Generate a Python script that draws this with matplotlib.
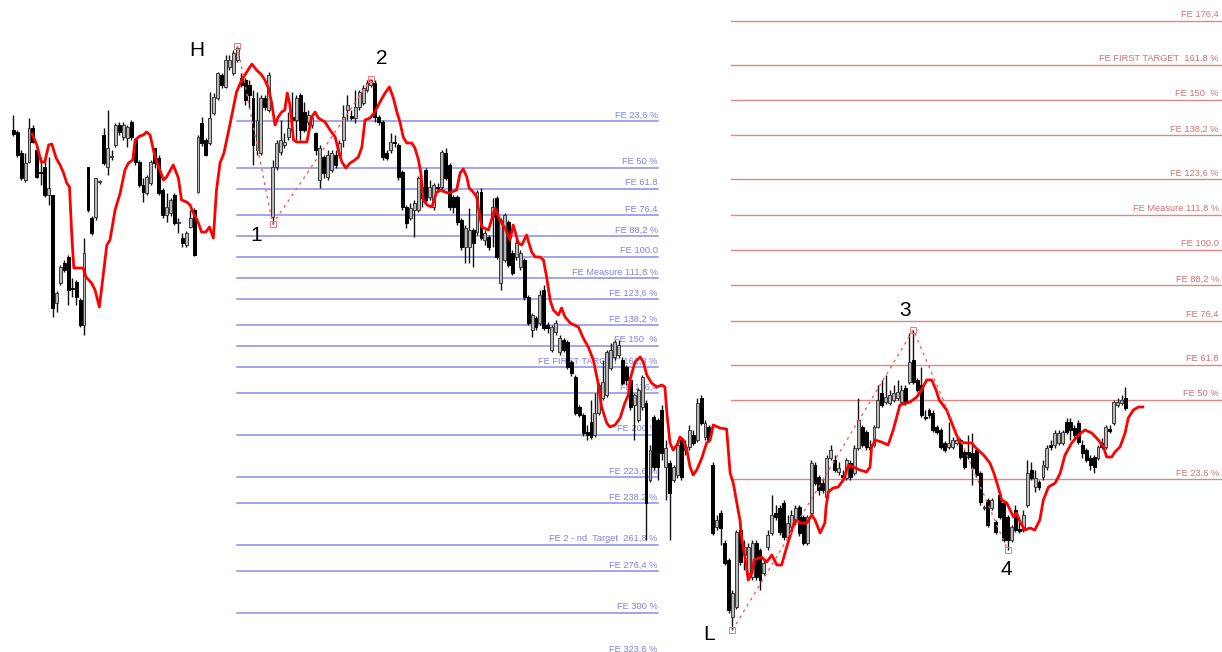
import matplotlib
matplotlib.use("Agg")
import matplotlib.pyplot as plt
import numpy as np

# ---- price data (one candle per bar) ----
opens = [
    870, 868, 847, 820, 838, 872, 850, 828, 833, 805, 805, 697, 717, 737, 743, 712, 718, 700, 675, 833,
    782, 783, 818, 865, 833, 843, 855, 875, 863, 862, 878, 860, 838, 815, 807, 817, 852, 842, 810, 785,
    787, 805, 777, 762, 755, 773, 790, 808, 877, 860, 857, 887, 902, 925, 913, 933, 927, 940, 922, 920,
    915, 902, 850, 847, 902, 890, 783, 833, 848, 855, 863, 883, 880, 905, 888, 878, 875, 867, 820, 843,
    823, 830, 845, 845, 860, 890, 884, 882, 893, 897, 910, 915, 917, 883, 878, 847, 850, 858, 855, 828,
    793, 782, 790, 790, 813, 830, 803, 793, 813, 813, 847, 835, 803, 803, 780, 753, 753, 770, 768, 808,
    760, 763, 783, 802, 717, 740, 778, 747, 743, 733, 740, 703, 670, 682, 677, 710, 675, 650, 668, 648,
    660, 658, 638, 623, 593, 585, 568, 578, 565, 587, 602, 605, 632, 643, 645, 640, 633, 620, 595, 580,
    593, 597, 520, 583, 580, 590, 533, 537, 520, 525, 560, 550, 553, 565, 560, 602, 563, 573, 535, 473,
    487, 457, 440, 383, 393, 470, 445, 427, 423, 457, 450, 427, 453, 467, 487, 492, 497, 463, 473, 478,
    493, 483, 457, 487, 535, 523, 517, 503, 542, 540, 528, 525, 522, 537, 527, 552, 573, 568, 553, 555,
    573, 607, 598, 597, 600, 602, 598, 612, 618, 640, 620, 615, 583, 590, 587, 573, 570, 557, 553, 553,
    557, 560, 548, 548, 547, 550, 527, 492, 500, 492, 478, 505, 497, 483, 460, 490, 471, 470, 495, 530,
    513, 518, 523, 533, 555, 555, 557, 557, 578, 578, 572, 577, 555, 550, 542, 543, 542, 557, 553, 571,
    577, 595, 597, 602,
]
highs = [
    885, 870, 850, 847, 882, 875, 852, 843, 842, 843, 805, 709, 735, 740, 745, 722, 720, 702, 762, 833,
    784, 822, 820, 872, 890, 850, 877, 878, 878, 875, 880, 862, 840, 822, 825, 840, 852, 845, 812, 807,
    802, 807, 782, 767, 769, 790, 792, 865, 883, 862, 908, 907, 928, 927, 945, 945, 950, 954, 927, 922,
    920, 910, 908, 905, 905, 928, 840, 860, 880, 867, 888, 908, 905, 907, 898, 890, 885, 868, 855, 845,
    850, 850, 850, 860, 895, 905, 890, 910, 910, 915, 920, 921, 920, 885, 880, 850, 867, 865, 857, 830,
    795, 797, 800, 824, 817, 832, 820, 817, 817, 850, 852, 837, 805, 805, 782, 775, 792, 772, 810, 812,
    770, 765, 802, 804, 782, 787, 780, 750, 760, 750, 742, 705, 687, 684, 710, 715, 678, 675, 680, 665,
    662, 660, 640, 625, 595, 587, 575, 600, 607, 617, 640, 650, 657, 660, 660, 643, 635, 622, 607, 612,
    625, 600, 555, 585, 582, 595, 560, 540, 535, 560, 563, 560, 575, 570, 602, 605, 580, 575, 538, 485,
    490, 460, 442, 410, 470, 480, 460, 457, 460, 460, 452, 440, 470, 505, 495, 495, 500, 485, 490, 495,
    495, 485, 485, 540, 538, 525, 522, 545, 555, 545, 538, 530, 542, 540, 555, 602, 575, 570, 560, 575,
    615, 620, 625, 610, 615, 620, 615, 615, 667, 670, 622, 633, 590, 592, 590, 575, 572, 559, 578, 563,
    562, 562, 550, 565, 567, 552, 529, 495, 502, 502, 480, 507, 500, 485, 475, 495, 480, 490, 540, 538,
    530, 520, 540, 555, 560, 570, 570, 570, 582, 582, 575, 580, 560, 552, 545, 545, 555, 562, 575, 575,
    600, 602, 605, 613,
]
lows = [
    864, 843, 820, 818, 837, 857, 822, 815, 803, 795, 683, 688, 715, 728, 695, 703, 695, 673, 665, 788,
    765, 780, 816, 835, 825, 840, 853, 865, 860, 853, 860, 835, 813, 798, 805, 815, 832, 805, 782, 778,
    784, 775, 767, 753, 753, 772, 744, 807, 854, 844, 855, 885, 900, 912, 912, 930, 925, 938, 913, 895,
    892, 835, 845, 845, 890, 888, 776, 830, 845, 852, 860, 870, 860, 860, 868, 875, 872, 845, 812, 822,
    820, 828, 832, 842, 853, 880, 880, 877, 890, 895, 908, 913, 878, 875, 840, 840, 847, 853, 820, 790,
    772, 780, 763, 788, 793, 798, 800, 790, 808, 808, 820, 790, 787, 775, 750, 737, 737, 733, 765, 760,
    755, 750, 753, 741, 710, 738, 733, 725, 740, 730, 700, 675, 663, 670, 675, 670, 667, 648, 665, 645,
    648, 631, 624, 585, 583, 564, 560, 561, 563, 585, 600, 603, 630, 640, 642, 615, 615, 590, 560, 578,
    590, 460, 518, 530, 520, 540, 500, 460, 518, 522, 520, 545, 550, 555, 558, 575, 560, 558, 465, 470,
    455, 435, 387, 370, 391, 435, 430, 425, 420, 420, 410, 425, 450, 465, 480, 465, 460, 460, 470, 475,
    464, 455, 455, 485, 515, 505, 507, 500, 540, 528, 525, 520, 520, 520, 525, 550, 553, 550, 548, 553,
    572, 593, 596, 595, 598, 600, 596, 595, 616, 616, 608, 583, 580, 582, 568, 566, 551, 548, 551, 551,
    555, 541, 531, 541, 515, 523, 495, 490, 473, 490, 466, 481, 458, 450, 458, 468, 467, 468, 493, 520,
    508, 510, 520, 530, 550, 552, 555, 555, 566, 560, 562, 556, 542, 538, 530, 527, 540, 551, 551, 567,
    575, 593, 595, 590,
]
closes = [
    866, 845, 822, 837, 872, 858, 823, 827, 805, 812, 692, 707, 733, 730, 710, 711, 703, 675, 747, 790,
    767, 822, 819, 837, 852, 844, 875, 868, 875, 873, 863, 838, 815, 808, 823, 838, 837, 807, 785, 793,
    800, 777, 778, 757, 767, 782, 745, 863, 857, 845, 882, 903, 927, 915, 940, 940, 947, 952, 915, 900,
    905, 855, 880, 902, 893, 925, 833, 857, 860, 858, 872, 880, 902, 870, 870, 885, 882, 850, 852, 827,
    845, 847, 835, 857, 883, 895, 882, 893, 908, 912, 917, 920, 883, 878, 843, 842, 858, 857, 823, 793,
    777, 792, 797, 822, 802, 800, 813, 815, 812, 848, 822, 793, 793, 778, 753, 772, 770, 757, 808, 762,
    767, 753, 793, 743, 780, 785, 735, 727, 757, 747, 703, 677, 685, 673, 705, 672, 672, 673, 677, 662,
    650, 633, 627, 587, 585, 567, 565, 563, 587, 615, 618, 648, 650, 658, 655, 617, 620, 593, 605, 610,
    623, 497, 550, 533, 533, 547, 552, 507, 533, 555, 523, 553, 570, 557, 597, 577, 577, 560, 467, 480,
    472, 437, 390, 407, 468, 438, 453, 453, 457, 423, 420, 437, 465, 485, 483, 468, 463, 477, 485, 492,
    467, 457, 483, 537, 517, 510, 510, 542, 550, 530, 532, 523, 540, 523, 552, 580, 555, 553, 551, 573,
    600, 595, 603, 605, 607, 608, 610, 597, 638, 618, 610, 585, 582, 585, 570, 568, 553, 550, 557, 560,
    560, 543, 533, 543, 532, 525, 498, 493, 475, 500, 468, 483, 460, 460, 473, 470, 469, 485, 527, 522,
    522, 513, 535, 552, 553, 567, 567, 568, 568, 570, 565, 558, 547, 540, 535, 533, 553, 553, 573, 569,
    598, 598, 600, 592,
]

# ---- displaced moving average (bar position, value) ----
ma_pos = [
    4.8, 6.0, 7.1, 8.0, 9.0, 9.8, 10.9, 11.9, 12.7, 13.6, 14.3, 14.9, 15.4, 17.8, 18.5, 19.9, 20.8, 21.9,
    23.8, 24.6, 25.9, 27.2, 28.4, 29.3, 30.4, 31.0, 32.2, 33.1, 33.9, 34.8, 36.1, 37.3, 38.2, 39.0, 40.7,
    42.0, 42.8, 44.1, 45.0, 45.8, 46.8, 47.9, 49.0, 49.9, 50.9, 51.7, 52.6, 53.6, 55.1, 56.8, 58.1, 59.4,
    60.7, 61.9, 63.2, 64.0, 64.9, 65.7, 66.6, 67.4, 68.3, 69.1, 69.7, 70.4, 71.3, 72.1, 74.7, 75.9, 76.8,
    77.6, 79.3, 80.6, 81.9, 82.7, 83.6, 84.6, 85.7, 86.9, 87.8, 88.7, 89.5, 90.8, 92.0, 93.3, 94.6, 95.7,
    96.7, 97.6, 98.4, 99.2, 100.1, 101.4, 102.2, 103.1, 103.7, 104.3, 105.3, 106.5, 107.1, 107.7, 109.0,
    109.8, 110.7, 111.5, 112.8, 113.7, 114.5, 115.4, 116.0, 117.0, 117.9, 118.3, 119.2, 120.9, 122.6,
    123.8, 125.1, 126.4, 127.2, 128.5, 129.4, 130.6, 131.9, 132.8, 134.0, 134.9, 135.7, 136.6, 137.4,
    138.7, 139.5, 140.4, 141.7, 143.8, 145.0, 146.3, 147.6, 148.8, 149.7, 151.0, 151.8, 153.1, 154.4,
    155.6, 156.5, 156.9, 158.2, 159.5, 160.3, 161.2, 162.4, 163.7, 165.0, 165.8, 166.3, 167.1, 167.9,
    169.2, 169.6, 170.5, 171.4, 172.2, 173.0, 173.9, 175.2, 176.4, 177.3, 178.1, 179.8, 181.5, 182.4,
    183.2, 184.1, 184.9, 185.3, 186.2, 187.0, 187.9, 188.5, 189.6, 190.4, 191.7, 193.0, 194.3, 195.5,
    196.8, 198.9, 200.2, 201.9, 203.2, 204.0, 205.3, 206.5, 206.8, 207.4, 208.6, 209.9, 211.2, 212.5,
    213.7, 215.4, 217.1, 218.0, 218.4, 219.3, 220.9, 222.6, 223.9, 225.6, 228.2, 229.9, 231.1, 232.4,
    233.7, 234.8, 235.6, 237.5, 238.8, 240.0, 240.9, 242.6, 243.9, 244.7, 246.9, 248.5, 249.5, 250.6,
    251.5, 252.8, 254.5, 255.3, 256.2, 257.4, 258.7, 259.9, 261.2, 262.1, 263.4, 265.1, 266.4, 267.6,
    269.3, 271.0, 272.7, 274.4, 276.1, 277.4, 278.2, 279.5, 280.3, 281.6, 282.9, 283.7, 285.0, 286.3,
    287.4,
]
ma_val = [
    866, 855, 838, 838, 855, 856, 842, 835, 828, 817, 813, 763, 732, 732, 723, 717, 710, 693,
    755, 760, 790, 807, 830, 837, 840, 860, 864, 865, 868, 865, 842, 830, 820, 823, 835,
    822, 800, 798, 795, 787, 780, 768, 768, 773, 762, 810, 837, 847, 875, 908, 920, 928,
    936, 930, 925, 920, 912, 898, 875, 883, 888, 890, 907, 895, 860, 858, 858, 883, 888,
    882, 878, 870, 863, 850, 838, 832, 837, 840, 843, 853, 880, 882, 888, 898, 907, 913,
    902, 888, 878, 863, 857, 857, 852, 840, 827, 800, 795, 793, 800, 808, 810,
    808, 807, 808, 810, 827, 831, 823, 812, 808, 803, 793, 773, 770, 792,
    780, 772, 760, 775, 757, 755, 765, 748, 743, 743, 740, 723, 700, 690,
    685, 692, 683, 677, 673, 662, 653, 640, 617, 593, 577, 573, 575, 582,
    597, 605, 620, 638, 643, 638, 625, 617, 613, 615, 613, 587, 557, 550,
    557, 563, 560, 550, 533, 525, 530, 542, 557, 560, 575, 572, 571, 527,
    517, 497, 480, 463, 443, 420, 427, 440, 442, 443, 438, 445, 435, 435,
    453, 480, 477, 477, 485, 480, 467, 477, 493, 508, 512, 513, 520, 535,
    533, 530, 528, 533, 553, 560, 558, 555, 570, 595, 598, 603, 610, 620,
    620, 610, 600, 590, 577, 565, 558, 557, 557, 553, 545, 537, 527, 513,
    500, 497, 483, 487, 478, 470, 472, 470, 480, 500, 513, 517, 527, 545,
    557, 565, 570, 567, 560, 553, 543, 543, 548, 553, 567, 582, 590, 593,
    593,
]

# ---- swing points for the two Fibonacci expansions ----
swing_a_bar = [57, 66, 91]
swing_a_px = [954, 776, 921]
swing_a_names = ["H", "1", "2"]
swing_b_bar = [183, 229, 253]
swing_b_px = [370, 670, 450]
swing_b_names = ["L", "3", "4"]

fe_down_ratios = [23.6, 50, 61.8, 76.4, 88.2, 100, 111.8, 123.6, 138.2, 150, 161.8, 176.4,
                  200, 223.6, 238.2, 261.8, 276.4, 300, 323.6]
fe_down_labels = ["FE 23,6 %", "FE 50 %", "FE 61.8", "FE 76,4", "FE 88,2 %", "FE 100.0",
                  "FE Measure 111,8 %", "FE 123,6 %", "FE 138,2 %", "FE 150  %",
                  "FE FIRST TARGET  161,8 %", "FE 176,4", "FE 200 %", "FE 223,6 %",
                  "FE 238,2 %", "FE 2 - nd  Target  261,8 %", "FE 276,4 %", "FE 300 %",
                  "FE 323,6 %"]
fe_up_ratios = [23.6, 50, 61.8, 76.4, 88.2, 100, 111.8, 123.6, 138.2, 150, 161.8, 176.4]
fe_up_labels = ["FE 23,6 %", "FE 50 %", "FE 61.8", "FE 76,4", "FE 88,2 %", "FE 100.0",
                "FE Measure 111,8 %", "FE 123,6 %", "FE 138,2 %", "FE 150  %",
                "FE FIRST TARGET  161.8 %", "FE 176,4"]

# ---- figure ----
W, H = 1222, 652
fig = plt.figure(figsize=(W / 100, H / 100), dpi=100)
ax = fig.add_axes([0, 0, 1, 1])
ax.set_axis_off()
bar_px = 3.93          # pixel spacing between bars
x0_px = 13.3           # pixel position of the first bar
x_right = (W - x0_px) / bar_px
ax.set_xlim(-x0_px / bar_px, x_right)
ax.set_ylim(1000 - H, 1000)

label_font = dict(family="Liberation Sans", fontsize=6.7)

# Fibonacci expansion of the down leg (H-1-2)
a_hi, a_lo, a_pb = swing_a_px
blue_line, blue_text = "#8c8ce8", "#8080e4"
down_end = 164.0
for r, lab in zip(fe_down_ratios, fe_down_labels):
    lvl = a_pb - r / 100.0 * (a_hi - a_lo)
    ax.plot([swing_a_bar[0], down_end], [lvl, lvl], color=blue_line, lw=1.1, zorder=1)
    ax.annotate(lab, (down_end, lvl), xytext=(0, 1.2), textcoords="offset points",
                ha="right", va="bottom", color=blue_text, zorder=1,
                annotation_clip=False, **label_font)

# Fibonacci expansion of the up leg (L-3-4)
b_lo, b_hi, b_pb = swing_b_px
red_line, red_text = "#e08686", "#d47070"
up_end = x_right - 0.8
for r, lab in zip(fe_up_ratios, fe_up_labels):
    lvl = b_pb + r / 100.0 * (b_hi - b_lo)
    ax.plot([swing_b_bar[0] - 0.5, x_right], [lvl, lvl], color=red_line, lw=1.0, zorder=1)
    ax.annotate(lab, (up_end, lvl), xytext=(0, 1.2), textcoords="offset points",
                ha="right", va="bottom", color=red_text, zorder=1,
                annotation_clip=False, **label_font)

# candles
o = np.array(opens, float)
hi = np.array(highs, float)
lo = np.array(lows, float)
c = np.array(closes, float)
x = np.arange(len(o))
ax.vlines(x, lo, hi, color="#111111", lw=1.0, zorder=2)
up = c >= o
body_lo = np.minimum(o, c)
body_h = np.maximum(np.abs(c - o), 1.2)
ax.bar(x[up], body_h[up], bottom=body_lo[up], width=0.74, color="#b8b8b8",
       edgecolor="#3a3a3a", linewidth=0.7, zorder=3)
ax.bar(x[~up], body_h[~up], bottom=body_lo[~up], width=0.74, color="black",
       edgecolor="black", linewidth=0.7, zorder=3)

# moving average
ax.plot(ma_pos, ma_val, color="#ff0000", lw=2.0, zorder=4, solid_joinstyle="round")

# swing connectors and wave labels
label_off = {"H": (-29, -3), "1": (-12, -8), "2": (8, 15),
             "L": (-17, -3), "3": (-6, 14), "4": (-1, -14)}
for bars, pxs, names in ((swing_a_bar, swing_a_px, swing_a_names),
                         (swing_b_bar, swing_b_px, swing_b_names)):
    ax.plot(bars, pxs, color="#ff5a5a", lw=1.0, ls=(0, (2, 3)), zorder=5)
    ax.plot(bars, pxs, ls="none", marker="s", ms=4, mfc="none", mec="#ff7070",
            mew=0.7, zorder=5)
    for b, p, n in zip(bars, pxs, names):
        ax.annotate(n, (b, p), xytext=label_off[n], textcoords="offset points",
                    ha="center", va="center", fontsize=15, family="Liberation Sans",
                    color="black", zorder=6)

fig.savefig("out.png", dpi=100, facecolor="white")
